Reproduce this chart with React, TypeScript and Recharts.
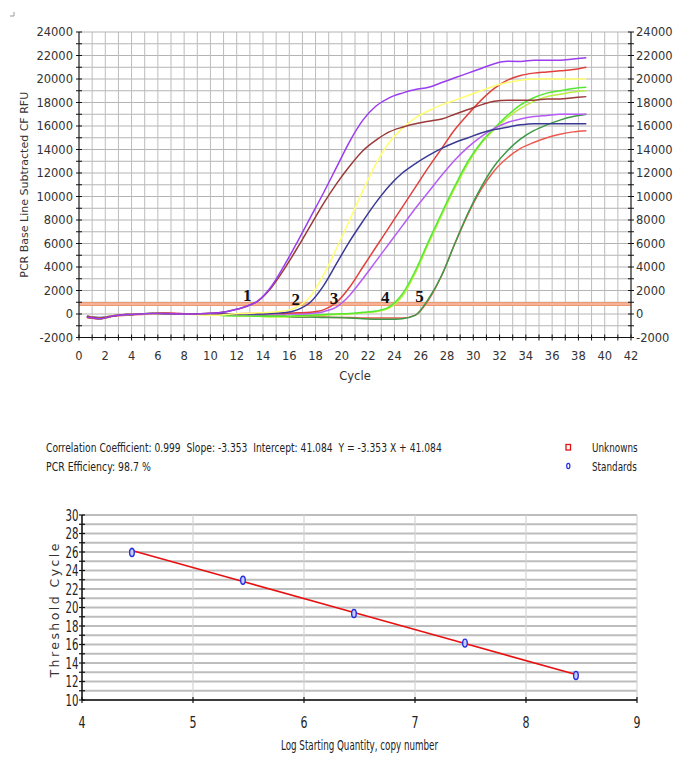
import React from "react";
import {
  LineChart,
  Line,
  XAxis,
  YAxis,
  CartesianGrid,
  ReferenceLine,
  ReferenceDot,
  ComposedChart,
  Scatter,
  Label,
} from "recharts";

// ---------- Amplification plot data ----------
const cycles = [0.6, 1.6, 2.6, 3.6, 4.6, 5.6, 6.6, 7.6, 8.6, 9.6, 10.6, 11.6, 12.6, 13.6, 14.6, 15.6, 16.6, 17.6, 18.6, 19.6, 20.6, 21.6, 22.6, 23.6, 24.6, 25.6, 26.6, 27.6, 28.6, 29.6, 30.6, 31.6, 32.6, 33.6, 34.6, 35.6, 36.6, 37.6, 38.6];

const purpleA = [-250, -400, -150, -50, 0, 50, 50, 0, 0, 50, 100, 300, 600, 1100, 2300, 4100, 6100, 8200, 10300, 12500, 14700, 16500, 17700, 18400, 18800, 19100, 19300, 19700, 20100, 20500, 20900, 21300, 21500, 21500, 21600, 21600, 21600, 21700, 21800];
const brownA = [-200, -350, -150, -50, 0, 50, 50, 0, 0, 50, 100, 300, 600, 1100, 2200, 3800, 5600, 7500, 9400, 11100, 12600, 13900, 14800, 15500, 15900, 16200, 16400, 16600, 17000, 17400, 17800, 18100, 18200, 18200, 18200, 18300, 18300, 18400, 18500];
const yellowB = [-200, -350, -100, -50, 0, 0, 50, 0, -50, -100, -100, 0, 50, 100, 150, 250, 600, 1500, 3300, 5600, 8000, 10500, 12800, 14600, 15800, 16700, 17300, 17800, 18200, 18600, 19000, 19400, 19700, 19900, 20000, 20000, 20000, 20000, 20000];
const navyB = [-200, -300, -150, -50, 0, 50, 0, 0, 0, 0, 0, 0, 0, 0, 50, 100, 350, 1000, 2400, 4300, 6200, 7900, 9500, 10900, 12000, 12800, 13500, 14100, 14600, 15000, 15400, 15700, 15900, 16100, 16200, 16200, 16200, 16200, 16200];
const redC = [-300, -400, -150, -50, 0, 50, 100, 50, 0, 0, 0, 0, 50, 50, 50, 50, 100, 150, 350, 1000, 2300, 4000, 5700, 7400, 9100, 10800, 12500, 14100, 15700, 17000, 18200, 19200, 19900, 20300, 20500, 20600, 20700, 20800, 21000];
const violetC = [-200, -350, -150, -50, 0, 0, 50, 50, 0, 0, 0, -50, -50, -50, 0, 0, 0, 50, 200, 600, 1600, 3000, 4500, 6000, 7500, 9000, 10400, 11800, 13100, 14200, 15100, 15800, 16300, 16600, 16800, 16900, 17000, 17000, 17000];
const limeD = [-250, -400, -150, -50, 0, 50, 50, 0, 0, -50, -100, -150, -150, -200, -200, -200, -150, -100, -50, 0, 50, 150, 250, 600, 1700, 3700, 6200, 8600, 10900, 13000, 14600, 15800, 16900, 17800, 18400, 18800, 19000, 19200, 19300];
const yellowGreenD = [-200, -350, -150, -50, 0, 50, 50, 0, 0, -50, -100, -150, -200, -200, -250, -250, -200, -150, -100, -50, 0, 100, 200, 500, 1500, 3500, 6000, 8400, 10700, 12800, 14500, 15700, 16700, 17500, 18100, 18500, 18700, 18900, 19000];
const greenE = [-200, -400, -150, -50, 0, 0, 50, 0, 0, 0, -50, -100, -150, -150, -200, -200, -250, -250, -300, -300, -350, -400, -450, -450, -400, -100, 1300, 3300, 6000, 8600, 10800, 12600, 13900, 14900, 15600, 16100, 16500, 16800, 17000];
const salmonE = [-300, -400, -200, -100, -50, 0, 50, 0, 0, 0, -50, -100, -100, -150, -200, -200, -250, -250, -250, -300, -300, -350, -350, -350, -350, -100, 1200, 3300, 6000, 8500, 10600, 12200, 13300, 14100, 14600, 15000, 15300, 15500, 15600];

const seriesKeys = ["salmonE", "greenE", "yellowGreenD", "limeD", "violetC", "redC", "navyB", "yellowB", "brownA", "purpleA"];
const seriesValues = [salmonE, greenE, yellowGreenD, limeD, violetC, redC, navyB, yellowB, brownA, purpleA];
const seriesColors = ["#ec5a50", "#3c9a48", "#b8f040", "#55e830", "#b65cf5", "#e0403c", "#3a3a96", "#ffff70", "#9c3a3a", "#9a3cf0"];

const thresholdRFU = 850;

const stdLabels = ["1", "2", "3", "4", "5"];
const stdLabelCycles = [12.8, 16.5, 19.4, 23.3, 25.9];
const stdLabelRFU = [1650, 1300, 1400, 1430, 1500];

const topYTicks = [-2000, -1000, 0, 1000, 2000, 3000, 4000, 5000, 6000, 7000, 8000, 9000, 10000, 11000, 12000, 13000, 14000, 15000, 16000, 17000, 18000, 19000, 20000, 21000, 22000, 23000, 24000];
const topXTicks = [0, 1, 2, 3, 4, 5, 6, 7, 8, 9, 10, 11, 12, 13, 14, 15, 16, 17, 18, 19, 20, 21, 22, 23, 24, 25, 26, 27, 28, 29, 30, 31, 32, 33, 34, 35, 36, 37, 38, 39, 40, 41, 42];

const ampRows = cycles.map((c, i) => {
  const row: Record<string, number> = { cycle: c };
  seriesValues.forEach((vals, k) => {
    row[seriesKeys[k]] = vals[i];
  });
  return row;
});

// ---------- Standard curve data ----------
const logQty = [4.45, 5.45, 6.45, 7.45, 8.45];
const ctValues = [25.95, 22.95, 19.35, 16.15, 12.65];
const fitValues = [26.16, 22.81, 19.46, 16.1, 12.75];
const stdYTicks = [10, 11, 12, 13, 14, 15, 16, 17, 18, 19, 20, 21, 22, 23, 24, 25, 26, 27, 28, 29, 30];
const stdXTicks = [4, 5, 6, 7, 8, 9];

const pointRows = logQty.map((x, i) => ({ x, y: ctValues[i] }));
const fitRows = logQty.map((x, i) => ({ x, y: fitValues[i] }));

const statsLine1 = "Correlation Coefficient: 0.999  Slope: -3.353  Intercept: 41.084  Y = -3.353 X + 41.084";
const statsLine2 = "PCR Efficiency: 98.7 %";
const legendNames = ["Unknowns", "Standards"];

const SANS = "'DejaVu Sans', Verdana, sans-serif";
const TXT = "#333";

// ---------- tick renderers ----------
const TopLeftTick = (props: any) => {
  const { x, y, payload } = props;
  const major = payload.value % 2000 === 0;
  return (
    <g>
      <line x1={x - 3} x2={x + 3} y1={y} y2={y} stroke="#111" strokeWidth={1} />
      {major && (
        <text x={x - 6} y={y + 4} textAnchor="end" fontSize={11.5} fontFamily={SANS} fill={TXT}>
          {payload.value}
        </text>
      )}
    </g>
  );
};

const TopRightTick = (props: any) => {
  const { x, y, payload } = props;
  const major = payload.value % 2000 === 0;
  return (
    <g>
      <line x1={x - 3} x2={x + 3} y1={y} y2={y} stroke="#111" strokeWidth={1} />
      {major && (
        <text x={x + 5} y={y + 4} textAnchor="start" fontSize={11.5} fontFamily={SANS} fill={TXT}>
          {payload.value}
        </text>
      )}
    </g>
  );
};

const TopXTick = (props: any) => {
  const { x, y, payload } = props;
  const major = payload.value % 2 === 0;
  return (
    <g>
      <line x1={x} x2={x} y1={y - 3} y2={y + 3} stroke="#111" strokeWidth={1} />
      {major && (
        <text x={x} y={y + 22} textAnchor="middle" fontSize={11.5} fontFamily={SANS} fill={TXT}>
          {payload.value}
        </text>
      )}
    </g>
  );
};

const StdYTick = (props: any) => {
  const { x, y, payload } = props;
  const major = payload.value % 2 === 0;
  return (
    <g>
      <line x1={x - 3} x2={x + 3} y1={y} y2={y} stroke="#111" strokeWidth={1.2} />
      {major && (
        <text
          x={x - 3.5}
          y={y + 5.5}
          textAnchor="end"
          fontSize={15}
          fontFamily={SANS}
          fill="#222"
          textLength={13}
          lengthAdjust="spacingAndGlyphs"
        >
          {payload.value}
        </text>
      )}
    </g>
  );
};

const StdXTick = (props: any) => {
  const { x, y, payload } = props;
  return (
    <g>
      <line x1={x} x2={x} y1={y - 3} y2={y + 3} stroke="#111" strokeWidth={1.2} />
      <text
        x={x}
        y={y + 28}
        textAnchor="middle"
        fontSize={16}
        fontFamily={SANS}
        fill="#222"
        textLength={7}
        lengthAdjust="spacingAndGlyphs"
      >
        {payload.value}
      </text>
    </g>
  );
};

const EllipseDot = (props: any) => {
  const { cx, cy } = props;
  return <ellipse cx={cx} cy={cy} rx={2.3} ry={4} fill="#c8ccff" stroke="#2430e0" strokeWidth={1.4} />;
};

const CrossDot = (props: any) => {
  const { cx, cy } = props;
  return (
    <g>
      <line x1={cx - 3} x2={cx + 3} y1={cy} y2={cy} stroke="#e81010" strokeWidth={1} />
      <line x1={cx} x2={cx} y1={cy - 3} y2={cy + 3} stroke="#e81010" strokeWidth={1} />
    </g>
  );
};

export default function App() {
  return (
    <div style={{ position: "relative", width: 685, height: 771, background: "#fff", overflow: "hidden" }}>
      <style>{"body{margin:0;background:#fff;}"}</style>

      {/* small corner mark */}
      <svg width={30} height={30} style={{ position: "absolute", left: 0, top: 0 }}>
        <polyline points="10,16 14,16 14,12" fill="none" stroke="#999" strokeWidth={1} />
      </svg>

      {/* ---------- Amplification chart ---------- */}
      <div style={{ position: "absolute", left: 0, top: 0 }}>
        <LineChart width={685} height={390} data={ampRows} margin={{ top: 32, right: 0, bottom: 0, left: 0 }}>
          <CartesianGrid stroke="#b4b4b4" strokeWidth={1} vertical={false} />
          <CartesianGrid stroke="#bcbcbc" strokeWidth={1} horizontal={false} />
          <XAxis
            dataKey="cycle"
            type="number"
            domain={[0, 42]}
            ticks={topXTicks}
            interval={0}
            height={52.5}
            tickSize={0}
            tickMargin={0}
            tickLine={false}
            axisLine={{ stroke: "#111" }}
            tick={<TopXTick />}
            allowDataOverflow
          >
            <Label
              content={(p: any) => {
                const vb = p.viewBox;
                return (
                  <text x={vb.x + vb.width / 2} y={vb.y + 42} textAnchor="middle" fontSize={11.5} fontFamily={SANS} fill={TXT}>
                    Cycle
                  </text>
                );
              }}
            />
          </XAxis>
          <YAxis
            type="number"
            domain={[-2000, 24000]}
            ticks={topYTicks}
            interval={0}
            width={79}
            tickSize={0}
            tickMargin={0}
            tickLine={false}
            axisLine={{ stroke: "#111" }}
            tick={<TopLeftTick />}
            allowDataOverflow
          >
            <Label
              content={(p: any) => {
                const vb = p.viewBox;
                const cx = vb.x + 24;
                const cy = vb.y + vb.height / 2;
                return (
                  <text
                    x={cx}
                    y={cy}
                    transform={`rotate(-90, ${cx}, ${cy})`}
                    textAnchor="middle"
                    dominantBaseline="central"
                    fontSize={11}
                    fontFamily={SANS}
                    fill={TXT}
                    textLength={186}
                    lengthAdjust="spacingAndGlyphs"
                  >
                    PCR Base Line Subtracted CF RFU
                  </text>
                );
              }}
            />
          </YAxis>
          <YAxis
            yAxisId="r"
            orientation="right"
            type="number"
            domain={[-2000, 24000]}
            ticks={topYTicks}
            interval={0}
            width={54}
            tickSize={0}
            tickMargin={0}
            tickLine={false}
            axisLine={{ stroke: "#111" }}
            tick={<TopRightTick />}
            allowDataOverflow
          />
          <ReferenceLine y={thresholdRFU} stroke="#ef9874" strokeWidth={4} />
          <ReferenceLine y={thresholdRFU} stroke="#f9cdb8" strokeWidth={1} />
          {seriesKeys.map((k, i) => (
            <Line
              key={k}
              dataKey={k}
              type="monotone"
              stroke={seriesColors[i]}
              strokeWidth={1.5}
              dot={false}
              isAnimationActive={false}
            />
          ))}
          {stdLabels.map((lab, i) => (
            <ReferenceDot
              key={lab}
              x={stdLabelCycles[i]}
              y={stdLabelRFU[i]}
              r={0}
              fill="none"
              stroke="none"
              label={{
                content: (p: any) => {
                  const vb = p.viewBox;
                  return (
                    <text
                      x={vb.x + (vb.width || 0) / 2}
                      y={vb.y + (vb.height || 0) / 2 + 6}
                      textAnchor="middle"
                      fontSize={17}
                      fontWeight="bold"
                      fontFamily="'Liberation Serif', 'DejaVu Serif', serif"
                      fill="#111"
                    >
                      {lab}
                    </text>
                  );
                },
              }}
            />
          ))}
        </LineChart>
      </div>

      {/* ---------- Stats text & legend ---------- */}
      <svg width={685} height={60} style={{ position: "absolute", left: 0, top: 425 }}>
        <text
          transform="translate(46, 27) scale(0.705, 1)"
          x={0}
          y={0}
          fontSize={13}
          fontFamily={SANS}
          fill="#222"
          style={{ whiteSpace: "pre" }}
        >
          {statsLine1}
        </text>
        <text transform="translate(46, 46) scale(0.72, 1)" x={0} y={0} fontSize={13} fontFamily={SANS} fill="#222">
          {statsLine2}
        </text>
        <rect x={566} y={19.5} width={4.5} height={5.5} fill="#fff" stroke="#e01010" strokeWidth={1.3} />
        <ellipse cx={568.3} cy={41} rx={1.6} ry={2.6} fill="#fff" stroke="#2430e0" strokeWidth={1.2} />
        <text transform="translate(592, 27) scale(0.68, 1)" x={0} y={0} fontSize={13} fontFamily={SANS} fill="#222">
          {legendNames[0]}
        </text>
        <text transform="translate(592, 46) scale(0.68, 1)" x={0} y={0} fontSize={13} fontFamily={SANS} fill="#222">
          {legendNames[1]}
        </text>
      </svg>

      {/* ---------- Standard curve ---------- */}
      <div style={{ position: "absolute", left: 0, top: 490 }}>
        <ComposedChart width={685} height={270} margin={{ top: 25, right: 48, bottom: 0, left: 0 }}>
          <CartesianGrid stroke="#bdbdbd" strokeWidth={2} vertical={false} />
          <CartesianGrid stroke="#d4d4d4" strokeWidth={1.2} horizontal={false} />
          <XAxis
            dataKey="x"
            type="number"
            domain={[4, 9]}
            ticks={stdXTicks}
            interval={0}
            height={60}
            tickSize={0}
            tickMargin={0}
            tickLine={false}
            axisLine={{ stroke: "#111", strokeWidth: 1.5 }}
            tick={<StdXTick />}
            allowDataOverflow
          >
            <Label
              content={(p: any) => {
                const vb = p.viewBox;
                return (
                  <text
                    x={vb.x + vb.width / 2}
                    y={vb.y + 50}
                    textAnchor="middle"
                    fontSize={14}
                    fontFamily={SANS}
                    fill="#222"
                    textLength={157}
                    lengthAdjust="spacingAndGlyphs"
                  >
                    Log Starting Quantity, copy number
                  </text>
                );
              }}
            />
          </XAxis>
          <YAxis
            dataKey="y"
            type="number"
            domain={[10, 30]}
            ticks={stdYTicks}
            interval={0}
            width={82}
            tickSize={0}
            tickMargin={0}
            tickLine={false}
            axisLine={{ stroke: "#111", strokeWidth: 1.5 }}
            tick={<StdYTick />}
            allowDataOverflow
          >
            <Label
              content={(p: any) => {
                const vb = p.viewBox;
                const cx = vb.x + 54;
                const cy = vb.y + vb.height / 2 + 3;
                return (
                  <text
                    x={cx}
                    y={cy}
                    transform={`rotate(-90, ${cx}, ${cy})`}
                    textAnchor="middle"
                    dominantBaseline="central"
                    fontSize={12.5}
                    fontFamily={SANS}
                    fill="#333"
                    textLength={134}
                    lengthAdjust="spacing"
                  >
                    Threshold Cycle
                  </text>
                );
              }}
            />
          </YAxis>
          <Scatter
            data={fitRows}
            dataKey="y"
            line={{ stroke: "#e81010", strokeWidth: 1.6 }}
            shape={<CrossDot />}
            isAnimationActive={false}
          />
          <Scatter data={pointRows} dataKey="y" shape={<EllipseDot />} isAnimationActive={false} />
        </ComposedChart>
      </div>
    </div>
  );
}
